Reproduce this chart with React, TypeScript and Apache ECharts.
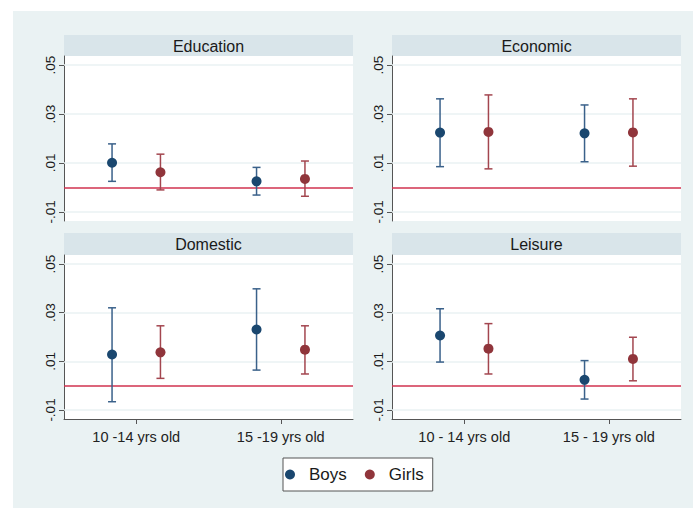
import React, { useEffect, useRef } from "react";
import * as echarts from "echarts";

const panelTitles = ["Education", "Economic", "Domestic", "Leisure"];
const groupLabelsLeft = ["10 -14 yrs old", "15 -19 yrs old"];
const groupLabelsRight = ["10 - 14 yrs old", "15 - 19 yrs old"];
const yTicks = [-0.01, 0.01, 0.03, 0.05];
const groupPositions = [1, 3];

// [panel][group]
const boysEstimate = [
  [0.0101, 0.0025],
  [0.0224, 0.0221],
  [0.0128, 0.0231],
  [0.0206, 0.0024],
];
const boysLower = [
  [0.0025, -0.0031],
  [0.0085, 0.0105],
  [-0.0066, 0.0064],
  [0.0097, -0.0055],
];
const boysUpper = [
  [0.0178, 0.0082],
  [0.0362, 0.0337],
  [0.032, 0.0398],
  [0.0316, 0.0103],
];
const girlsEstimate = [
  [0.0062, 0.0035],
  [0.0227, 0.0225],
  [0.0137, 0.0148],
  [0.0152, 0.011],
];
const girlsLower = [
  [-0.001, -0.0036],
  [0.0076, 0.0087],
  [0.003, 0.0048],
  [0.0048, 0.002],
];
const girlsUpper = [
  [0.0136, 0.0108],
  [0.0378, 0.0362],
  [0.0246, 0.0246],
  [0.0255, 0.0199],
];

const BOYS = "#1a476f";
const GIRLS = "#90353b";
const BOYS_BAR = "#3a618a";
const GIRLS_BAR = "#a3464f";
const FONT = "Liberation Sans, Arial, sans-serif";

const OFFSET = 0.335;

function fmtTick(v: number) {
  const s = v.toFixed(2);
  return s.replace("0.", ".");
}

export default function App() {
  const ref = useRef<HTMLDivElement>(null);
  useEffect(() => {
    if (!ref.current) return;
    const chart = echarts.init(ref.current, undefined, { renderer: "svg" });

    const gridPos = [
      { left: 64, top: 56, width: 289, height: 165 },
      { left: 392, top: 56, width: 289, height: 165 },
      { left: 64, top: 255, width: 289, height: 164 },
      { left: 392, top: 255, width: 289, height: 164 },
    ];
    const strips = [
      { x: 64, y: 35, w: 289, h: 21 },
      { x: 392, y: 35, w: 289, h: 21 },
      { x: 64, y: 233, w: 289, h: 22 },
      { x: 392, y: 233, w: 289, h: 22 },
    ];

    const grids = gridPos.map((g) => ({
      ...g,
      show: true,
      backgroundColor: "#ffffff",
      borderWidth: 0,
    }));

    const xAxes = gridPos.map((_, i) => {
      const bottom = i >= 2;
      const labels = i % 2 === 0 ? groupLabelsLeft : groupLabelsRight;
      return {
        type: "value",
        gridIndex: i,
        min: 0,
        max: 4,
        splitLine: { show: false },
        axisLine: { show: bottom, onZero: false, lineStyle: { color: "#555", width: 1 } },
        axisTick: {
          show: bottom,
          customValues: groupPositions,
          length: 5,
          lineStyle: { color: "#555", width: 1 },
        },
        axisLabel: {
          show: bottom,
          customValues: groupPositions,
          margin: 10,
          fontSize: 14.5,
          fontFamily: FONT,
          color: "#222",
          formatter: (v: number) => {
            const idx = groupPositions.indexOf(Math.round(v));
            return idx >= 0 ? labels[idx] : "";
          },
        },
      };
    });

    const yAxes = gridPos.map((_, i) => ({
      type: "value",
      gridIndex: i,
      min: -0.0137,
      max: 0.0537,
      splitLine: { show: false },
      axisLine: { show: true, lineStyle: { color: "#555", width: 1 } },
      axisTick: {
        show: true,
        customValues: yTicks,
        length: 5,
        lineStyle: { color: "#555", width: 1 },
      },
      axisLabel: {
        customValues: yTicks,
        rotate: 90,
        margin: 7,
        fontSize: 13.5,
        fontFamily: FONT,
        color: "#1a1a1a",
        formatter: (v: number) => fmtTick(v),
      },
    }));

    const renderBar = (color: string) => (params: any, api: any) => {
      const x = api.value(0);
      const lo = api.coord([x, api.value(1)]);
      const hi = api.coord([x, api.value(2)]);
      const cw = 4;
      const style = { stroke: color, lineWidth: 1.5, fill: "none" };
      return {
        type: "group",
        children: [
          { type: "line", shape: { x1: lo[0], y1: lo[1], x2: hi[0], y2: hi[1] }, style },
          { type: "line", shape: { x1: lo[0] - cw, y1: lo[1], x2: lo[0] + cw, y2: lo[1] }, style },
          { type: "line", shape: { x1: hi[0] - cw, y1: hi[1], x2: hi[0] + cw, y2: hi[1] }, style },
        ],
      };
    };

    const series: any[] = [];
    panelTitles.forEach((_, p) => {
      const boysBars = groupPositions.map((gx, g) => [gx - OFFSET, boysLower[p][g], boysUpper[p][g]]);
      const girlsBars = groupPositions.map((gx, g) => [gx + OFFSET, girlsLower[p][g], girlsUpper[p][g]]);
      series.push({
        type: "custom",
        name: "Boys CI",
        xAxisIndex: p,
        yAxisIndex: p,
        renderItem: renderBar(BOYS_BAR),
        encode: { x: 0, y: [1, 2] },
        data: boysBars,
        z: 2,
        markLine: {
          silent: true,
          symbol: "none",
          label: { show: false },
          animation: false,
          z: 1,
          data: [
            ...yTicks.map((t) => ({ yAxis: t, lineStyle: { color: "#eaf2f3", width: 1.5, type: "solid" } })),
            { yAxis: 0, lineStyle: { color: "#d0324f", width: 1.6, type: "solid" } },
          ],
        },
      });
      series.push({
        type: "custom",
        name: "Girls CI",
        xAxisIndex: p,
        yAxisIndex: p,
        renderItem: renderBar(GIRLS_BAR),
        encode: { x: 0, y: [1, 2] },
        data: girlsBars,
        z: 2,
      });
      series.push({
        type: "scatter",
        name: "Boys",
        xAxisIndex: p,
        yAxisIndex: p,
        symbol: "circle",
        symbolSize: 10,
        itemStyle: { color: BOYS, opacity: 1 },
        data: groupPositions.map((gx, g) => [gx - OFFSET, boysEstimate[p][g]]),
        z: 3,
      });
      series.push({
        type: "scatter",
        name: "Girls",
        xAxisIndex: p,
        yAxisIndex: p,
        symbol: "circle",
        symbolSize: 10,
        itemStyle: { color: GIRLS, opacity: 1 },
        data: groupPositions.map((gx, g) => [gx + OFFSET, girlsEstimate[p][g]]),
        z: 3,
      });
    });

    const graphics: any[] = [
      {
        type: "rect",
        shape: { x: 13, y: 11, width: 680, height: 497 },
        style: { fill: "#eaf2f3" },
        z: -10,
        silent: true,
      },
    ];
    strips.forEach((s, i) => {
      graphics.push({
        type: "rect",
        shape: { x: s.x, y: s.y, width: s.w, height: s.h },
        style: { fill: "#d9e5ea" },
        silent: true,
      });
      graphics.push({
        type: "text",
        x: s.x + s.w / 2,
        y: s.y + s.h / 2 + 0.5,
        style: {
          text: panelTitles[i],
          textAlign: "center",
          textVerticalAlign: "middle",
          fontSize: 16,
          fontFamily: FONT,
          fill: "#1a1a1a",
        },
        silent: true,
      });
    });

    chart.setOption({
      animation: false,
      backgroundColor: "#ffffff",
      grid: grids,
      xAxis: xAxes,
      yAxis: yAxes,
      graphic: graphics,
      legend: {
        data: [
          { name: "Boys", icon: "circle", itemStyle: { color: BOYS, opacity: 1 } },
          { name: "Girls", icon: "circle", itemStyle: { color: GIRLS, opacity: 1 } },
        ],
        left: 283,
        top: 458,
        orient: "horizontal",
        itemWidth: 18,
        itemHeight: 10,
        itemGap: 18,
        padding: [8, 9, 8, 2],
        backgroundColor: "#ffffff",
        borderColor: "#555",
        borderWidth: 1,
        selectedMode: false,
        textStyle: { fontSize: 17, fontFamily: FONT, color: "#1a1a1a", padding: [0, 0, 0, 5] },
      },
      series,
    });

    return () => chart.dispose();
  }, []);

  return (
    <div
      ref={ref}
      style={{ position: "fixed", left: 0, top: 0, width: 693, height: 508 }}
    />
  );
}
